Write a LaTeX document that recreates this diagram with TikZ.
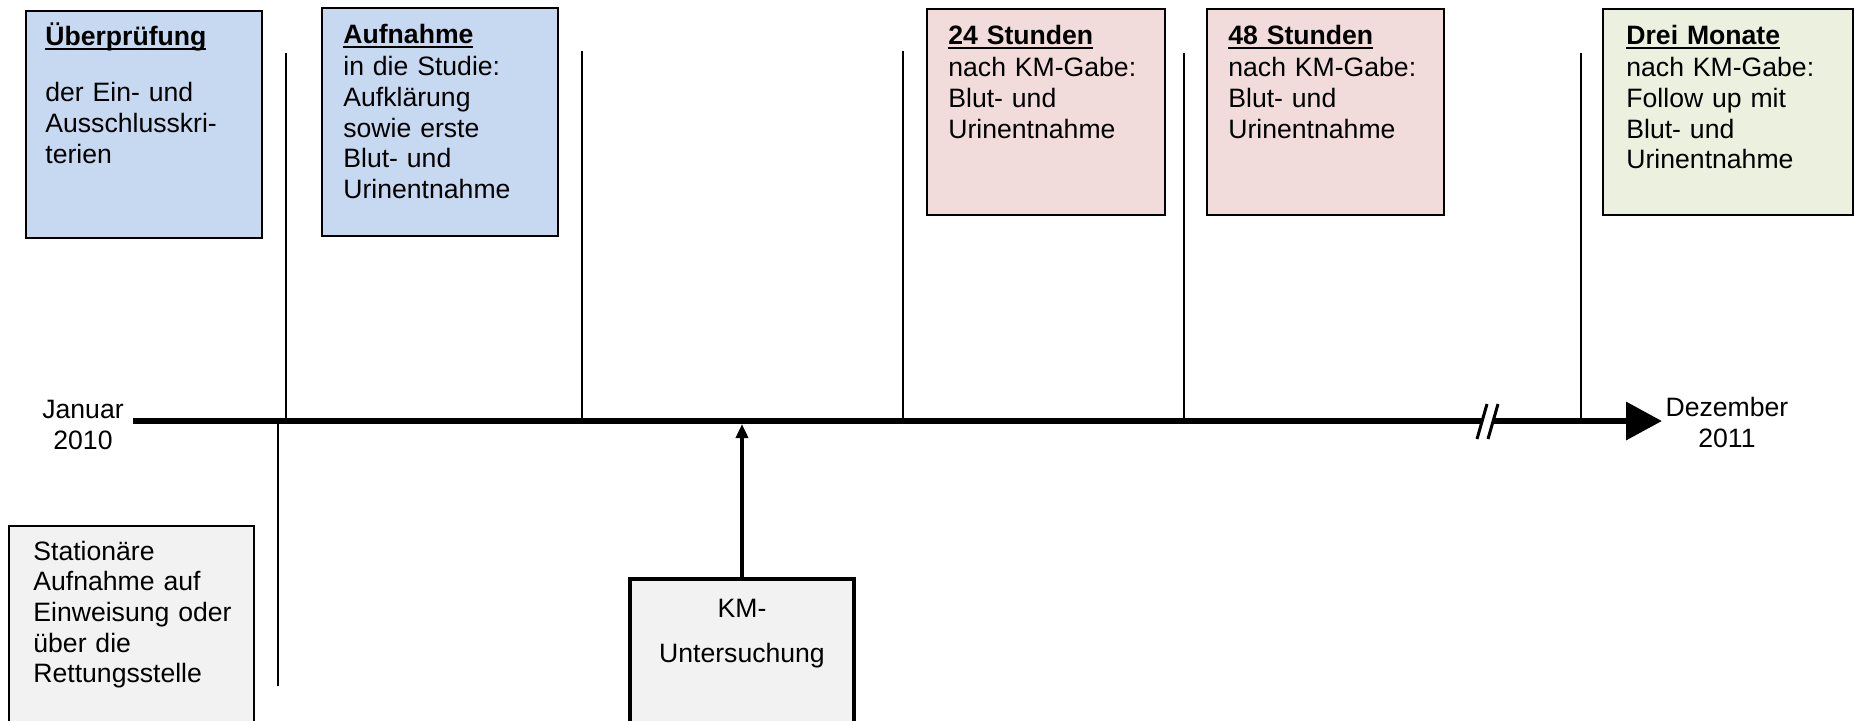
\documentclass[tikz,border=0pt]{standalone}
\usepackage{fontspec}
\setmainfont{Liberation Sans}
\usetikzlibrary{arrows.meta,fit}
\definecolor{bluebox}{HTML}{C6D9F1}
\definecolor{pinkbox}{HTML}{F2DCDB}
\definecolor{greenbox}{HTML}{EBF1DE}
\definecolor{graybox}{HTML}{F2F2F2}
\tikzset{
  boxframe/.style={draw=black, line width=0.75pt, inner sep=0pt},
  txt/.style={anchor=base west, inner sep=0pt, align=left, text width=110pt,
              font=\fontsize{13.3}{15.35}\selectfont},
  lbl/.style={inner sep=0pt, align=center, font=\fontsize{13.3}{15.35}\selectfont},
  tick/.style={line width=0.75pt},
}
\newcommand{\ttl}[1]{\setbox0\hbox{\textbf{#1}}\rlap{\rule[-2.6pt]{\wd0}{1.1pt}}\box0}
\begin{document}
\begin{tikzpicture}[x=0.5pt,y=-0.5pt]
\useasboundingbox (0,0) rectangle (1854,720);
\clip (0,0) rectangle (1854,720);
% boxes
\node[boxframe, fill=bluebox, fit={(26,11) (262,238)}] (b1) {};
\node[boxframe, fill=bluebox, fit={(322,8) (558,236)}] (b2) {};
\node[boxframe, fill=pinkbox, fit={(927,9) (1165,215)}] (b3) {};
\node[boxframe, fill=pinkbox, fit={(1207,9) (1444,215)}] (b4) {};
\node[boxframe, fill=greenbox, fit={(1603,9) (1853,215)}] (b5) {};
\node[boxframe, fill=graybox, fit={(9,526) (254,730)}] (b6) {};
\node[draw=black, line width=2pt, inner sep=0pt, fill=graybox, fit={(630,579) (854,730)}] (km) {};
% texts
\node[txt] (t1) at (45,45) {\ttl{Überprüfung}\\[13pt]der Ein- und\\Ausschlusskri-\\terien};
\node[txt] (t2) at (343,43) {\ttl{Aufnahme}\\[1pt]in die Studie:\\Aufklärung\\sowie erste\\Blut- und\\Urinentnahme};
\node[txt] (t3) at (948,44) {\ttl{24 Stunden}\\[1pt]nach KM-Gabe:\\Blut- und\\Urinentnahme};
\node[txt] (t4) at (1228,44) {\ttl{48 Stunden}\\[1pt]nach KM-Gabe:\\Blut- und\\Urinentnahme};
\node[txt] (t5) at (1626,44) {\ttl{Drei Monate}\\[1pt]nach KM-Gabe:\\Follow up mit\\Blut- und\\Urinentnahme};
\node[txt] (t6) at (33,560) {Stationäre\\Aufnahme auf\\Einweisung oder\\über die\\Rettungsstelle};
\node[lbl, anchor=base] (t7) at (742,662) {KM-\\[7pt]Untersuchung};
\node[lbl, anchor=base] (jan) at (83,449) {Januar\\2010};
\node[lbl, anchor=base] (dez) at (1727,447) {Dezember\\2011};
% timeline
\coordinate (tlstart) at (133,421);
\coordinate (tlend) at (1662,421);
\draw[line width=3.3pt, -{Triangle[length=18pt,width=18.5pt]}] (tlstart) -- (tlend);
% break mark
\fill[white] (1479,433) -- (1485,409) -- (1496,409) -- (1490,433) -- cycle;
\draw[line width=1.5pt] (1477,439) -- (1487,404);
\draw[line width=1.5pt] (1488,439) -- (1498,404);
% ticks
\foreach \x/\yt/\n in {286/53/a, 582/51/b, 903/51/c, 1184/53/d, 1581/53/e}{
  \coordinate (top\n) at (\x,\yt);
  \coordinate (bot\n) at (\x,419);
  \draw[tick] (top\n) -- (bot\n);
}
\coordinate (lowtop) at (278,423);
\coordinate (lowbot) at (278,686);
\draw[tick] (lowtop) -- (lowbot);
% KM arrow
\coordinate (kmtip) at (742,424);
\draw[line width=2pt, -{Triangle[length=7pt,width=6pt]}] (km.north) -- (kmtip);
\end{tikzpicture}
\end{document}
